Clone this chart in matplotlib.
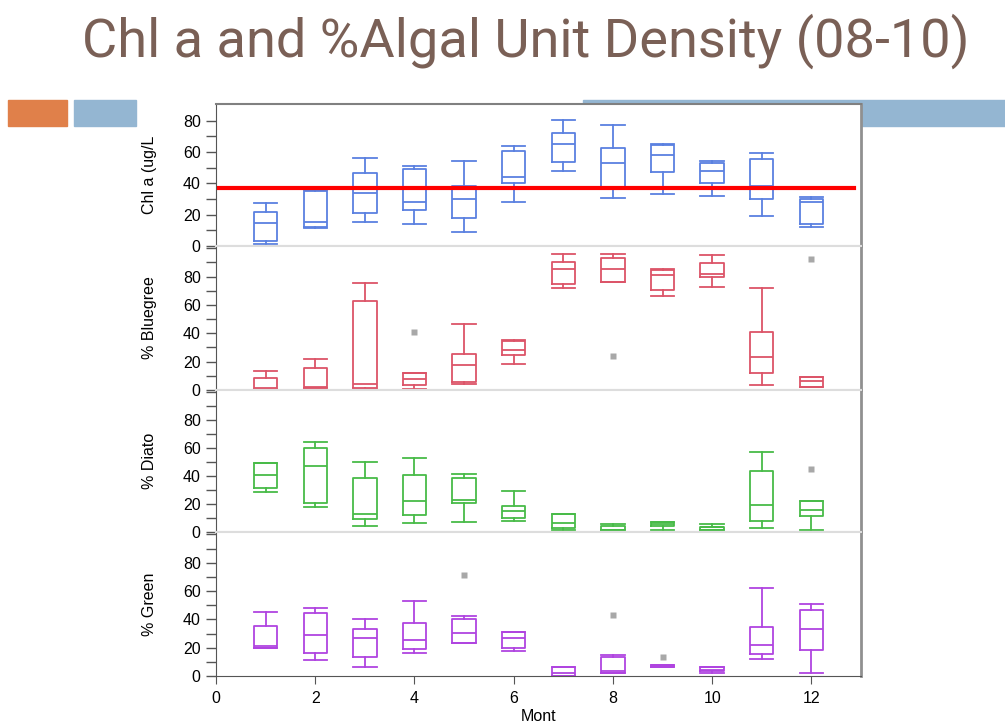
import matplotlib
matplotlib.use("Agg")
import matplotlib.pyplot as plt
from matplotlib.patches import Rectangle

plt.rcParams['font.family'] = ['Liberation Sans', 'DejaVu Sans']

months = [1, 2, 3, 4, 5, 6, 7, 8, 9, 10, 11, 12]

# Chl a (ug/L)
chl_lo = [1.5, 11.5, 15.5, 14, 8.7, 28, 47.7, 30.7, 33, 31.7, 19.3, 12.3]
chl_q1 = [3, 12, 21, 22.8, 18, 40, 53.8, 38, 47.1, 40.2, 29.8, 14]
chl_med = [15, 15.5, 33.7, 28, 29.8, 44, 65.3, 52.8, 57.9, 47.7, 38.5, 28]
chl_q3 = [22, 35, 46.4, 49, 38.5, 60.7, 72, 62.8, 64.5, 52.8, 55.4, 30]
chl_hi = [27.3, 36, 56, 51, 54.3, 64, 80.5, 77, 65.3, 54.3, 59.6, 31]
chl_out = [[], [], [], [], [], [], [], [], [], [], [], []]
chl_target = 37

# % Bluegreen
bg_lo = [0.5, 1.5, 0.5, 0.5, 4.4, 18, 71.7, 76, 66, 72.5, 3.8, 1.9]
bg_q1 = [0.5, 1.6, 1.6, 3.8, 5.6, 25, 74.6, 76.2, 70.6, 79.5, 11.8, 1.9]
bg_med = [1.6, 2.1, 4.4, 7.5, 17.4, 28, 85.6, 85.6, 80.9, 81.6, 23, 6.1]
bg_q3 = [8.3, 15.5, 63, 12.2, 25.6, 34.8, 90, 93, 84.5, 89.4, 40.7, 9.2]
bg_hi = [13.6, 21.7, 75.5, 12.2, 46.8, 35.5, 95.8, 95.8, 85.4, 95, 71.7, 9.2]
bg_out = [[], [], [], [41], [], [], [], [23.8], [], [], [], [92.7]]

# % Diatoms
dia_lo = [28.7, 17.5, 4.5, 6.1, 7.3, 8, 1.6, 1.2, 1.6, 1.2, 2.8, 1.1]
dia_q1 = [31.3, 20.7, 9.3, 11.8, 20.7, 10, 3.1, 1.3, 4.5, 1.2, 8, 11.1]
dia_med = [40.6, 47, 12.8, 22, 23.2, 15, 6.4, 1.4, 5.4, 3.3, 19.2, 15.7]
dia_q3 = [49, 60.3, 38.9, 41, 38.7, 18.7, 13, 4.5, 6.9, 3.8, 43.4, 21.8]
dia_hi = [49, 64.5, 50.3, 52.7, 41.3, 29.6, 13, 5.7, 7.3, 5.4, 57.2, 21.8]
dia_out = [[], [], [], [], [], [], [], [], [], [], [], [45.1]]

# % Green
gr_lo = [20, 11.1, 6.1, 16, 23, 17.4, 0.2, 2.3, 6.1, 1.9, 11.8, 1.9]
gr_q1 = [20, 16, 13.6, 19.3, 23.1, 19.8, 0.2, 2.3, 6.1, 3.3, 15.5, 18.1]
gr_med = [21, 29.2, 26.8, 25.6, 30.6, 26.6, 2.3, 3.8, 7.5, 4.2, 21.7, 33]
gr_q3 = [35.5, 44.3, 33.4, 37.2, 40.5, 30.9, 6.1, 13.2, 8, 6.1, 34.8, 46.4]
gr_hi = [45, 48, 40.5, 53.2, 42.4, 30.9, 6.1, 14.6, 8, 6.4, 61.9, 50.6]
gr_out = [[], [], [], [], [71.5], [], [], [43.1], [13.4], [], [], []]

panels = [
    ("Chl a (ug/L", chl_lo, chl_q1, chl_med, chl_q3, chl_hi, chl_out, '#5a80e0', 90.7),
    ("% Bluegree", bg_lo, bg_q1, bg_med, bg_q3, bg_hi, bg_out, '#dc5468', 101.6),
    ("% Diato", dia_lo, dia_q1, dia_med, dia_q3, dia_hi, dia_out, '#48bb48', 101.4),
    ("% Green", gr_lo, gr_q1, gr_med, gr_q3, gr_hi, gr_out, '#b044e0', 101.7),
]

fig = plt.figure(figsize=(10.05, 7.28), dpi=100)

# decorative slide bars
for x0, x1, col in [(8, 67, '#e0804a'), (74, 136, '#94b6d2'), (583, 1005, '#94b6d2')]:
    fig.patches.append(Rectangle((x0 / 1005, 1 - 126 / 728), (x1 - x0) / 1005, 26 / 728,
                                 transform=fig.transFigure, color=col, zorder=-1))

fig.text(0.523, 0.943, "Chl a and %Algal Unit Density (08-10)", ha='center', va='center',
         fontsize=39, color='#7a6056', family=['Roboto', 'DejaVu Sans'])

tops = [104, 246, 390, 532]
bots = [246, 390, 532, 676]
left, right = 216 / 1005, 861 / 1005

for i, (label, lo, q1, med, q3, hi, out, col, ytop) in enumerate(panels):
    ax = fig.add_axes([left, 1 - bots[i] / 728, right - left, (bots[i] - tops[i]) / 728])
    stats = []
    for k in range(len(months)):
        stats.append(dict(whislo=lo[k], q1=q1[k], med=med[k], q3=q3[k], whishi=hi[k], fliers=out[k]))
    lp = dict(color=col, linewidth=1.3)
    ax.bxp(stats, positions=months, widths=0.47, capwidths=0.47, showfliers=True,
           boxprops=lp, whiskerprops=lp, capprops=lp, medianprops=lp,
           flierprops=dict(marker='s', markerfacecolor='#a8a8a8', markeredgecolor='none', markersize=4.5),
           manage_ticks=False)
    if i == 0:
        ax.plot([0.06, 12.85], [chl_target, chl_target], color='#ff0000', linewidth=3, zorder=5)
    ax.set_xlim(0, 13)
    ax.set_ylim(0, ytop)
    ax.set_yticks([0, 20, 40, 60, 80])
    ax.set_yticks([10, 30, 50, 70, 90, 100] if i > 0 else [10, 30, 50, 70], minor=True)
    ax.tick_params(axis='y', which='both', direction='out', length=7, width=1, color='#555555',
                   labelsize=11.5, pad=4)
    ax.set_ylabel(label, fontsize=11.5)
    ax.yaxis.set_label_coords(-0.092, 0.5)
    ax.spines['left'].set_color('#555555')
    ax.spines['right'].set_color('#909090')
    ax.spines['right'].set_linewidth(2)
    if i == 0:
        ax.spines['top'].set_color('#808080')
        ax.spines['top'].set_linewidth(1.5)
    else:
        ax.spines['top'].set_color('#dddddd')
        ax.spines['top'].set_linewidth(1.5)
    if i < 3:
        ax.spines['bottom'].set_color('#dddddd')
        ax.spines['bottom'].set_linewidth(1.5)
        ax.set_xticks([])
    else:
        ax.spines['bottom'].set_color('#555555')
        ax.set_xticks([0, 2, 4, 6, 8, 10, 12])
        ax.tick_params(axis='x', direction='out', length=6, color='#555555', labelsize=11.5, pad=5)
        ax.set_xlabel("Mont", fontsize=11.5, labelpad=2)

fig.savefig("out.png", dpi=100)
